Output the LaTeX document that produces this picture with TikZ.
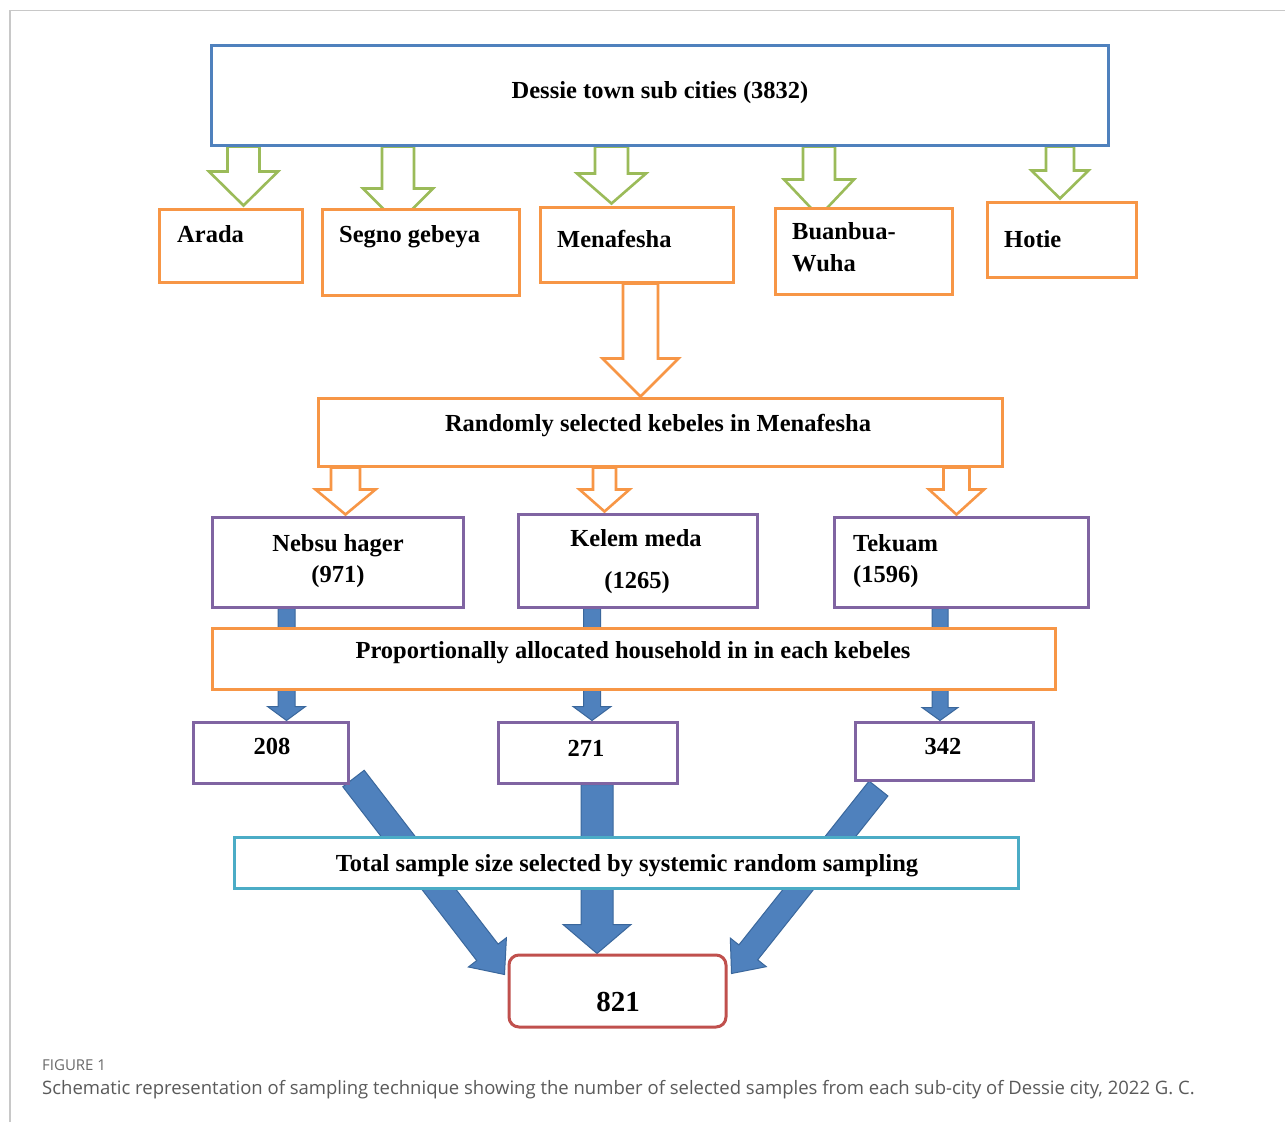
\documentclass[tikz,border=0pt]{standalone}
\usepackage{fontspec}
\setmainfont{Liberation Serif}
\newfontfamily\capfont{Open Sans}
\usetikzlibrary{calc}
\pgfdeclarelayer{background}
\pgfsetlayers{background,main}
\definecolor{cblue}{HTML}{4F81BD}
\definecolor{cbluedark}{HTML}{3A679C}
\definecolor{cgreen}{HTML}{9BBB59}
\definecolor{corange}{HTML}{F79646}
\definecolor{cpurple}{HTML}{8064A2}
\definecolor{ccyan}{HTML}{4BACC6}
\definecolor{cred}{HTML}{C0504D}
\definecolor{cframe}{HTML}{C8C8C8}
\definecolor{ccap}{HTML}{5A5A5A}
\definecolor{cfig}{HTML}{6A6A6A}
\newcommand\blockarrow[6]{%
  \coordinate (bas) at #2;
  \coordinate (bat) at #3;
  \coordinate (bab) at ($(bat)!#6!(bas)$);
  \draw[#1] ($(bas)!#4!90:(bat)$) -- ($(bab)!#4!90:(bat)$) -- ($(bab)!#5!90:(bat)$) -- (bat)
    -- ($(bab)!#5!-90:(bat)$) -- ($(bab)!#4!-90:(bat)$) -- ($(bas)!#4!-90:(bat)$) -- cycle;
}
\begin{document}
\begin{tikzpicture}[x=1pt,y=-1pt,
  box/.style={draw, line width=3pt, fill=white, inner sep=0pt},
  bluebox/.style={box, draw=cblue},
  orangebox/.style={box, draw=corange},
  purplebox/.style={box, draw=cpurple},
  cyanbox/.style={box, draw=ccyan},
  redbox/.style={box, draw=cred, rounded corners=10pt},
  txt/.style={font=\fontsize{24.5}{28}\selectfont\bfseries, inner sep=0pt, text height=16.5pt, text depth=0pt},
  bigtxt/.style={font=\fontsize{29}{33}\selectfont\bfseries, inner sep=0pt, text height=19.7pt, text depth=0pt},
  garrow/.style={draw=cgreen, line width=2.6pt, fill=white, line join=miter},
  oarrow/.style={draw=corange, line width=2.6pt, fill=white, line join=miter},
  barrow/.style={draw=cbluedark, line width=1pt, fill=cblue, line join=miter},
]
\useasboundingbox (0,0) rectangle (1285,1122);
\begin{pgfonlayer}{background}
\fill[white] (0,0) rectangle (1285,1122);
\draw[cframe, line width=1.5pt] (10,1122) -- (10,10.5) -- (1285,10.5);
\end{pgfonlayer}

% boxes
\path
  (659.5,95)   node[bluebox,   minimum width=897pt, minimum height=100pt] (top) {}
  (230.5,245.5) node[orangebox, minimum width=143pt, minimum height=73pt] (arada) {}
  (420.5,252)  node[orangebox, minimum width=197pt, minimum height=86pt] (segno) {}
  (636.5,244.5) node[orangebox, minimum width=193pt, minimum height=75pt] (mena) {}
  (863.5,251)  node[orangebox, minimum width=177pt, minimum height=86pt] (buan) {}
  (1061.5,239.5) node[orangebox, minimum width=149pt, minimum height=75pt] (hotie) {}
  (660,432)    node[orangebox, minimum width=684pt, minimum height=68pt] (rand) {}
  (337.5,562)  node[purplebox, minimum width=251pt, minimum height=90pt] (nebsu) {}
  (637.5,560.5) node[purplebox, minimum width=239pt, minimum height=93pt] (kelem) {}
  (961,562)    node[purplebox, minimum width=254pt, minimum height=90pt] (tekuam) {}
  (633.5,658.5) node[orangebox, minimum width=843pt, minimum height=61pt] (prop) {}
  (270.5,752.5) node[purplebox, minimum width=155pt, minimum height=61pt] (n208) {}
  (587.5,752.5) node[purplebox, minimum width=179pt, minimum height=61pt] (n271) {}
  (944,751)    node[purplebox, minimum width=178pt, minimum height=58pt] (n342) {}
  (626,862.5)  node[cyanbox,   minimum width=784pt, minimum height=51pt] (total) {}
  (617.5,991)  node[redbox,    minimum width=217pt, minimum height=72pt] (final) {};

\begin{pgfonlayer}{background}
% green hollow arrows
\blockarrow{garrow}{($(arada.north |- top.south)+(13,0)$)}{($(arada.north)+(13,-2)$)}{16pt}{34.5pt}{34pt}
\blockarrow{garrow}{($(segno.north |- top.south)+(-22.5,0)$)}{($(segno.north)+(-22.5,16)$)}{16pt}{35pt}{35pt}
\blockarrow{garrow}{($(mena.north |- top.south)+(-25,0)$)}{($(mena.north)+(-25,-2)$)}{16.5pt}{34.5pt}{30pt}
\blockarrow{garrow}{($(buan.north |- top.south)+(-44.5,0)$)}{($(buan.north)+(-44.5,10)$)}{16pt}{35pt}{37pt}
\blockarrow{garrow}{($(hotie.north |- top.south)+(-1.5,0)$)}{($(hotie.north)+(-1.5,-2)$)}{14pt}{28.5pt}{28pt}
% orange hollow arrows
\blockarrow{oarrow}{($(mena.south)+(4,0)$)}{($(rand.north)+(-19.5,0)$)}{17.5pt}{38pt}{38pt}
\blockarrow{oarrow}{($(nebsu.north |- rand.south)+(8,0)$)}{($(nebsu.north)+(8,-1)$)}{14.5pt}{30pt}{25pt}
\blockarrow{oarrow}{($(kelem.north |- rand.south)+(-33,0)$)}{($(kelem.north)+(-33,-1)$)}{11.5pt}{25pt}{22pt}
\blockarrow{oarrow}{($(tekuam.north |- rand.south)+(-4.5,0)$)}{($(tekuam.north)+(-4.5,-1)$)}{13pt}{27.5pt}{25pt}
% blue solid arrows
\blockarrow{barrow}{($(nebsu.south)+(-51,0)$)}{($(n208.north)+(16,0)$)}{8.5pt}{19pt}{14pt}
\blockarrow{barrow}{($(kelem.south)+(-45.5,0)$)}{($(n271.north)+(4.5,0)$)}{8.5pt}{19pt}{14pt}
\blockarrow{barrow}{($(tekuam.south)+(-21,0)$)}{($(n342.north)+(-4,0)$)}{8pt}{18pt}{13pt}
\blockarrow{barrow}{($(n208.south east)+(4,-6)$)}{($(final.north west)+(-3,21)$)}{13.5pt}{24pt}{28pt}
\blockarrow{barrow}{($(n271.south)+(9.5,0)$)}{($(final.north)+(-20.5,0)$)}{16pt}{34pt}{29pt}
\blockarrow{barrow}{($(n342.south west)+(25,7)$)}{($(final.north east)+(4,20)$)}{12pt}{23pt}{27pt}
\end{pgfonlayer}

% texts
\node[txt] (tTop) at (660,90) {Dessie town sub cities (3832)};
\node[txt, anchor=west] (tArada) at (177,234) {Arada};
\node[txt, anchor=west] (tSegno) at (339,234) {Segno gebeya};
\node[txt, anchor=west] (tMena) at (557,239) {Menafesha};
\node[txt, anchor=west] (tBuan1) at (792,231) {Buanbua-};
\node[txt, anchor=west] (tBuan2) at (792,263) {Wuha};
\node[txt, anchor=west] (tHotie) at (1004,239) {Hotie};
\node[txt] (tRand) at (658,423) {Randomly selected kebeles in Menafesha};
\node[txt] (tNebsu1) at (338,543) {Nebsu hager};
\node[txt] (tNebsu2) at (338,574) {(971)};
\node[txt] (tKelem1) at (636,538) {Kelem meda};
\node[txt] (tKelem2) at (637,580) {(1265)};
\node[txt, anchor=west] (tTek1) at (853,543) {Tekuam};
\node[txt, anchor=west] (tTek2) at (853,574) {(1596)};
\node[txt] (tProp) at (633,650) {Proportionally allocated household in in each kebeles};
\node[txt] (t208) at (272,746) {208};
\node[txt] (t271) at (586,748) {271};
\node[txt] (t342) at (943,746) {342};
\node[txt] (tTotal) at (627,863) {Total sample size selected by systemic random sampling};
\node[bigtxt] (t821) at (618,1002) {821};

% caption
\node[anchor=west, inner sep=0pt, text=cfig, font=\capfont\fontsize{15}{18}\selectfont] (figlab) at (42,1065) {FIGURE 1};
\node[anchor=west, inner sep=0pt, text=ccap, font=\capfont\fontsize{18.5}{22}\selectfont] (caption) at (42,1090) {Schematic representation of sampling technique showing the number of selected samples from each sub-city of Dessie city, 2022 G. C.};
\end{tikzpicture}
\end{document}
